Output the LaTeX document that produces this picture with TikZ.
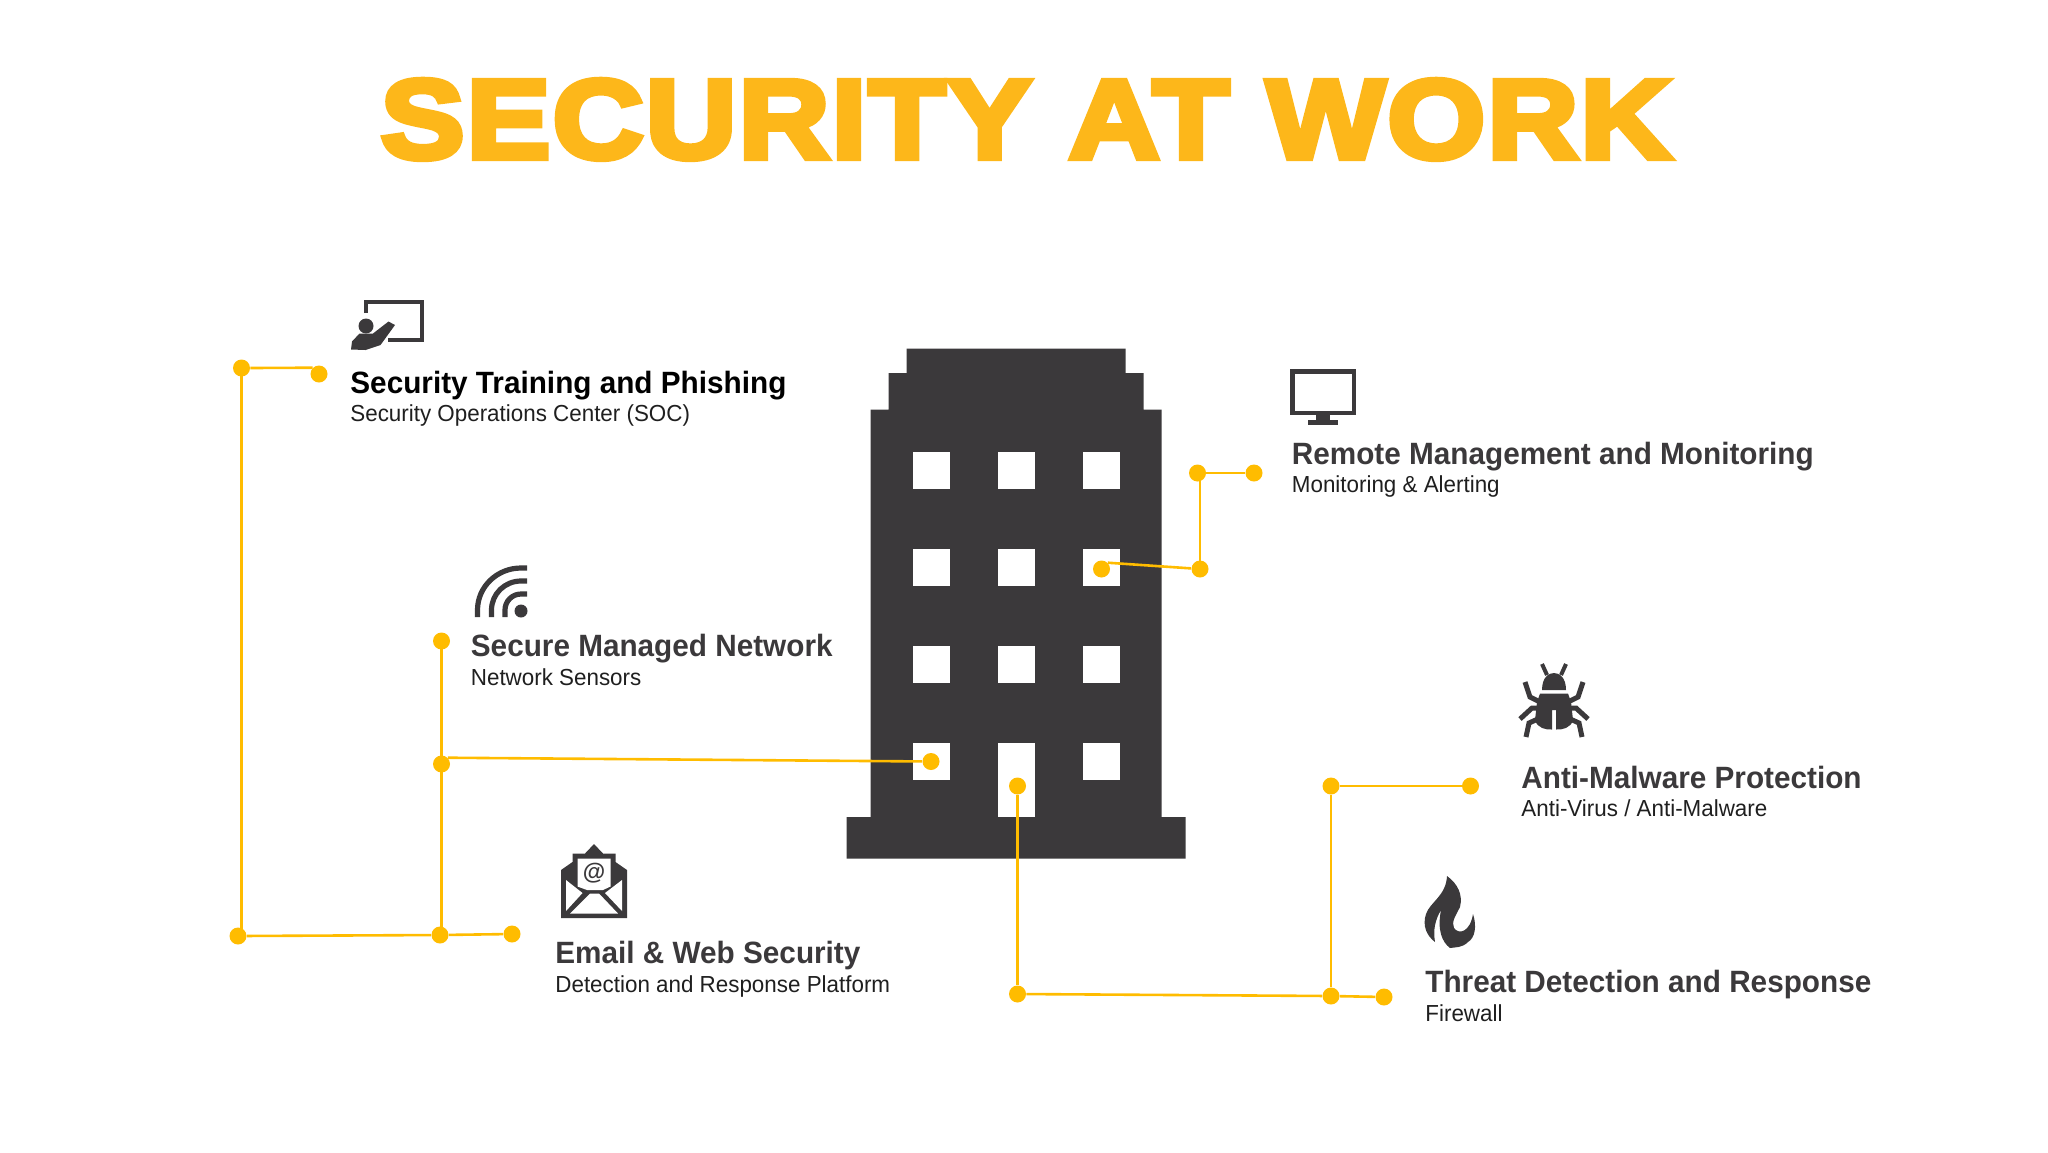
\documentclass[tikz,border=0pt]{standalone}
\usepackage{fontspec}
\usepackage{tikz}
\usetikzlibrary{arrows}
\usetikzlibrary{calc}
\usetikzlibrary{positioning}
\setmainfont{Liberation Sans}
\newfontfamily\titlefont[FakeBold=5.5,FakeStretch=1.125,LetterSpace=1.8]{Liberation Sans Bold}
\newfontfamily\headfont[FakeStretch=0.965]{Liberation Sans Bold}
\newfontfamily\subfont[FakeStretch=0.965]{Liberation Sans}
\definecolor{titleyellow}{HTML}{FDB71A}
\definecolor{wireyellow}{HTML}{FFBC00}
\definecolor{darkgrey}{HTML}{3B393B}
\tikzset{
  dot/.style={circle,fill=wireyellow,inner sep=0pt,minimum size=8.5pt},
  wire/.style={draw=wireyellow,line width=1.3pt},
  head/.style={anchor=base west,inner sep=0pt,text=darkgrey,font=\headfont\fontsize{15.4}{18}\selectfont},
  subhead/.style={anchor=base west,inner sep=0pt,text=black!88,font=\subfont\fontsize{11.6}{14}\selectfont},
}
\begin{document}
\begin{tikzpicture}[x=0.5pt,y=-0.5pt]

  \useasboundingbox (0,0) rectangle (2048,1152);

  \node [anchor=base,inner sep=0pt,text=titleyellow,font=\titlefont\fontsize{56}{56}\selectfont] (title) at (1026,158) {SECURITY AT WORK};

  \fill [darkgrey] (906.5,348.5) -- (1125.5,348.5) -- (1125.5,373) -- (1143.5,373) -- (1143.5,409.5) -- (1161.5,409.5)
    -- (1161.5,817) -- (1185.5,817) -- (1185.5,858.5) -- (846.5,858.5) -- (846.5,817) -- (870.5,817) -- (870.5,409.5)
    -- (888.5,409.5) -- (888.5,373) -- (906.5,373) -- cycle;
  \foreach \winx/\winw in {912.5/37,997.5/37,1082.5/37}
    \foreach \winy in {452,549,646}
      \fill [white] (\winx,\winy) rectangle +(\winw,36.5);
  \fill [white] (912.5,743) rectangle +(37,36.5);
  \fill [white] (1082.5,743) rectangle +(37,36.5);
  \fill [white] (997.5,743) rectangle (1034.5,817);

  \node [dot] (train_a) at (241.5,368) {};
  \node [dot] (train_b) at (319,374) {};
  \node [dot] (corner_bl) at (238,936) {};
  \node [dot] (mail_j) at (440,935) {};
  \node [dot] (mail_b) at (512,934) {};
  \node [dot] (net_a) at (441.5,641) {};
  \node [dot] (net_j) at (441.5,764) {};
  \node [dot] (win_l) at (931,761.5) {};
  \node [dot] (rem_a) at (1197.5,473) {};
  \node [dot] (rem_b) at (1254,473) {};
  \node [dot] (rem_j) at (1200,569) {};
  \node [dot] (win_r) at (1101.5,569) {};
  \node [dot] (door) at (1017.5,786) {};
  \node [dot] (door_j) at (1017.5,994) {};
  \node [dot] (thr_j) at (1331,996) {};
  \node [dot] (thr_b) at (1384,997) {};
  \node [dot] (mal_a) at (1331,786) {};
  \node [dot] (mal_b) at (1470.5,786) {};

  \path [wire]
    (train_a.east) edge (train_b.north west)
    (train_a.center) edge (train_a.center |- corner_bl.center)
    (corner_bl) edge (mail_j)
    (mail_j) edge (mail_b)
    (net_a.center) edge (net_a.center |- mail_j.center)
    (net_j.north east) edge (win_l)
    (rem_a) edge (rem_b)
    (rem_j.center |- rem_a.center) edge (rem_j.center)
    (rem_j) edge (win_r.north east)
    (door) edge (door_j)
    (door_j) edge (thr_j)
    (thr_j) edge (thr_b)
    (thr_j) edge (mal_a)
    (mal_a) edge (mal_b);

  \node [head,text=black] (train_h) at (350,393) {Security Training and Phishing};
  \node [subhead] (train_s) at (350,421.5) {Security Operations Center (SOC)};
  \node [head] (net_h) at (470.5,656.5) {Secure Managed Network};
  \node [subhead] (net_s) at (470.5,685.5) {Network Sensors};
  \node [head] (mail_h) at (555,963.5) {Email \& Web Security};
  \node [subhead] (mail_s) at (555,992.5) {Detection and Response Platform};
  \node [head] (rem_h) at (1291.5,464.5) {Remote Management and Monitoring};
  \node [subhead] (rem_s) at (1291.5,492) {Monitoring \& Alerting};
  \node [head] (mal_h) at (1521,788.5) {Anti-Malware Protection};
  \node [subhead] (mal_s) at (1521,816) {Anti-Virus / Anti-Malware};
  \node [head] (thr_h) at (1425,992.5) {Threat Detection and Response};
  \node [subhead] (thr_s) at (1425,1021) {Firewall};

  \draw [darkgrey,line width=2.3pt] (366,313) -- (366,302) -- (422,302) -- (422,340) -- (388,340);
  \fill [darkgrey] (366,326) circle (7.5);
  \fill [darkgrey] (351,349.5) -- (352,341.5) -- (359.5,333.5) -- (373,333.5) -- (388.5,321.5) -- (395,325) -- (380.5,345) -- (365.5,350) -- cycle;

  \fill [darkgrey] (521,611) circle (6.5);
  \draw [darkgrey,line width=2.6pt] (477.5,617) -- (477.5,610) arc [start angle=180,end angle=270,x radius=43.5,y radius=42] -- (527,568);
  \draw [darkgrey,line width=2.6pt] (491.5,617) -- (491.5,610) arc [start angle=180,end angle=270,x radius=29.5,y radius=29] -- (527,581);
  \draw [darkgrey,line width=2.6pt] (505,617) -- (505,610) arc [start angle=180,end angle=270,x radius=16,y radius=16] -- (527,594);

  \fill [darkgrey] (561,918) -- (561,870) -- (572.5,862) -- (572.5,853.5) -- (585,853.5) -- (594,844) -- (603,853.5)
    -- (615.5,853.5) -- (615.5,862) -- (627,870) -- (627,918) -- cycle;
  \fill [white] (577.5,858.5) -- (610.5,858.5) -- (610.5,886.5) -- (603,890) -- (587,890) -- (577.5,886.5) -- cycle;
  \fill [white] (566,880) -- (582.5,893) -- (566,911) -- cycle;
  \fill [white] (622,880) -- (605,893) -- (622,911) -- cycle;
  \fill [white] (570,913.5) -- (590,893.5) -- (599,893.5) -- (618,913.5) -- cycle;
  \node [inner sep=0pt,text=darkgrey,font=\fontsize{11.5}{12}\selectfont\bfseries] (mail_at) at (594,873) {@};

  \fill [darkgrey] (1289.5,368.5) rectangle (1356,415);
  \fill [white] (1294.5,373.5) rectangle (1351.5,410.5);
  \fill [darkgrey] (1316,415) rectangle (1329.5,420.5);
  \fill [darkgrey] (1307.5,420) rectangle (1338,424.5);

  \fill [darkgrey] (1542,690) .. controls (1542,677) and (1549,673) .. (1554,673) .. controls (1559,673) and (1566,677) .. (1566,690) -- cycle;
  \fill [darkgrey] (1540,693.5) -- (1568,693.5) -- (1571,702) -- (1573,720) .. controls (1571,728) and (1562,730) .. (1556,729.5)
    -- (1556,710) -- (1552,710) -- (1552,729.5) .. controls (1546,730) and (1537,728) .. (1535,720) -- (1537,702) -- cycle;
  \foreach \bugs in {1,-1} {
    \draw [darkgrey,line width=2pt] ($(1554,0)+(\bugs*7,675)$) -- ($(1554,0)+(\bugs*12,664)$);
    \draw [darkgrey,line width=2.5pt] ($(1554,0)+(\bugs*14,702)$) -- ($(1554,0)+(\bugs*24,697)$) -- ($(1554,0)+(\bugs*29,682)$);
    \draw [darkgrey,line width=2.5pt] ($(1554,0)+(\bugs*12,708)$) -- ($(1554,0)+(\bugs*22,708)$) -- ($(1554,0)+(\bugs*34,719)$);
    \draw [darkgrey,line width=2.5pt] ($(1554,0)+(\bugs*14,718)$) -- ($(1554,0)+(\bugs*25,723)$) -- ($(1554,0)+(\bugs*28,737)$);
  }

  \fill [darkgrey] (1447,876) .. controls (1458,884) and (1463,895) .. (1460,907) .. controls (1456,915) and (1451,922) .. (1454,928)
    .. controls (1459,935) and (1470,932) .. (1473,914) .. controls (1477,926) and (1475,938) .. (1468,942)
    .. controls (1462,948) and (1456,947) .. (1450,948) .. controls (1442,942) and (1437,930) .. (1441,910)
    .. controls (1435,920) and (1433,930) .. (1435,942) .. controls (1427,936) and (1422,926) .. (1426,914)
    .. controls (1430,902) and (1446,896) .. cycle;

\end{tikzpicture}
\end{document}
